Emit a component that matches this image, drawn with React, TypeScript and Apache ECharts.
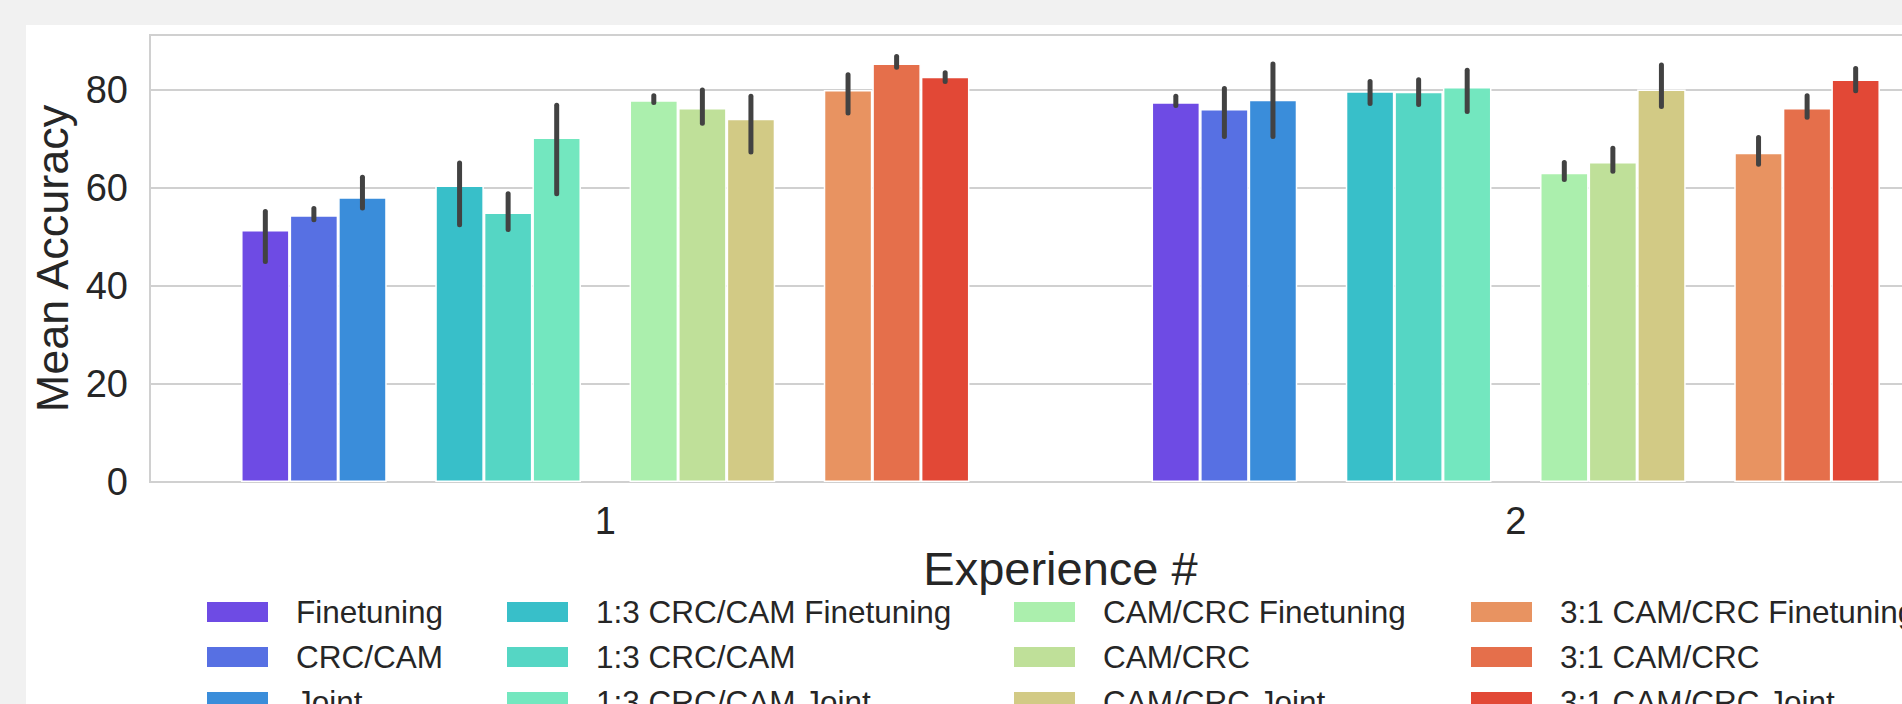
import React, { useEffect, useRef } from "react";
import * as echarts from "echarts";

const experiences = ["1", "2"];
const methodNames = [
  "Finetuning",
  "CRC/CAM",
  "Joint",
  "1:3 CRC/CAM Finetuning",
  "1:3 CRC/CAM",
  "1:3 CRC/CAM Joint",
  "CAM/CRC Finetuning",
  "CAM/CRC",
  "CAM/CRC Joint",
  "3:1 CAM/CRC Finetuning",
  "3:1 CAM/CRC",
  "3:1 CAM/CRC Joint",
];
const meanExp1 = [51.4, 54.4, 58.1, 60.5, 55.0, 70.3, 77.9, 76.3, 74.1, 80.0, 85.4, 82.7];
const meanExp2 = [77.5, 76.1, 78.0, 79.7, 79.6, 80.6, 63.1, 65.3, 80.1, 67.2, 76.3, 82.1];
const ciLowExp1 = [44.5, 53.0, 55.4, 52.0, 51.0, 58.3, 76.9, 72.7, 66.8, 74.8, 84.1, 81.2];
const ciHighExp1 = [55.7, 56.3, 62.7, 65.6, 59.3, 77.4, 79.3, 80.5, 79.2, 83.6, 87.3, 84.0];
const ciLowExp2 = [76.3, 70.0, 70.0, 76.7, 76.5, 75.1, 61.2, 62.9, 76.1, 64.3, 73.9, 79.3];
const ciHighExp2 = [79.2, 80.8, 85.8, 82.2, 82.6, 84.5, 65.7, 68.6, 85.6, 70.8, 79.3, 84.9];
const yTicks = [0, 20, 40, 60, 80];

const TOTAL_SLOTS = 15;

// matplotlib "rainbow" colormap, desaturated like seaborn (saturation 0.75)
function hue2rgb(p: number, q: number, t: number) {
  if (t < 0) t += 1;
  if (t > 1) t -= 1;
  if (t < 1 / 6) return p + (q - p) * 6 * t;
  if (t < 1 / 2) return q;
  if (t < 2 / 3) return p + (q - p) * (2 / 3 - t) * 6;
  return p;
}
function slotColor(slot: number) {
  const x = (slot + 1) / (TOTAL_SLOTS + 1);
  let r = Math.min(1, Math.abs(2 * x - 0.5));
  let g = Math.sin(Math.PI * x);
  let b = Math.cos((Math.PI * x) / 2);
  const max = Math.max(r, g, b);
  const min = Math.min(r, g, b);
  const l = (max + min) / 2;
  let h = 0;
  let s = 0;
  if (max !== min) {
    const d = max - min;
    s = l > 0.5 ? d / (2 - max - min) : d / (max + min);
    if (max === r) h = (g - b) / d + (g < b ? 6 : 0);
    else if (max === g) h = (b - r) / d + 2;
    else h = (r - g) / d + 4;
    h /= 6;
  }
  s *= 0.75;
  if (s === 0) {
    r = g = b = l;
  } else {
    const q = l < 0.5 ? l * (1 + s) : l + s - l * s;
    const p = 2 * l - q;
    r = hue2rgb(p, q, h + 1 / 3);
    g = hue2rgb(p, q, h);
    b = hue2rgb(p, q, h - 1 / 3);
  }
  const toHex = (v: number) => Math.round(v * 255).toString(16).padStart(2, "0");
  return "#" + toHex(r) + toHex(g) + toHex(b);
}

const slotOf = (i: number) => i + Math.floor(i / 3);

export default function App() {
  const ref = useRef<HTMLDivElement>(null);
  useEffect(() => {
    if (!ref.current) return;
    const chart = echarts.init(ref.current, undefined, { renderer: "svg" });
    const font = '"Liberation Sans", Arial, Helvetica, sans-serif';
    const textColor = "#262626";

    const barSeries: any[] = [];
    for (let s = 0; s < TOTAL_SLOTS; s++) {
      const i = methodNames.findIndex((_, k) => slotOf(k) === s);
      if (i < 0) {
        barSeries.push({ type: "bar", name: "_gap" + s, data: [null, null], barGap: 0, barCategoryGap: "20%" });
      } else {
        barSeries.push({
          type: "bar",
          name: methodNames[i],
          data: [meanExp1[i], meanExp2[i]],
          barGap: 0,
          barCategoryGap: "20%",
          itemStyle: { color: slotColor(s), borderColor: "#ffffff", borderWidth: 1.5 },
        });
      }
    }

    const errData: number[][] = [];
    methodNames.forEach((_, i) => {
      errData.push([0, ciLowExp1[i], ciHighExp1[i], slotOf(i)]);
      errData.push([1, ciLowExp2[i], ciHighExp2[i], slotOf(i)]);
    });
    const errLW = 5;

    const legendCols = [0, 1, 2, 3].map((c) => methodNames.slice(c * 3, c * 3 + 3));
    const legendLefts = [207, 507, 1014, 1471];

    chart.setOption({
      animation: false,
      backgroundColor: "#ffffff",
      textStyle: { fontFamily: font },
      graphic: [
        { type: "rect", shape: { x: 0, y: 0, width: 2200, height: 25 }, style: { fill: "#f1f1f1" }, silent: true },
        { type: "rect", shape: { x: 0, y: 0, width: 26, height: 800 }, style: { fill: "#f1f1f1" }, silent: true },
      ],
      grid: {
        left: 150,
        top: 35,
        width: 1821,
        height: 447,
        show: true,
        borderColor: "#d0d0d0",
        borderWidth: 2,
        backgroundColor: "transparent",
      },
      xAxis: {
        type: "category",
        data: experiences,
        axisLine: { show: false },
        axisTick: { show: false },
        axisLabel: { fontSize: 38, color: textColor, margin: 20, fontFamily: font },
        name: "Experience #",
        nameLocation: "middle",
        nameGap: 60,
        nameTextStyle: { fontSize: 47, color: textColor, fontFamily: font },
      },
      yAxis: {
        type: "value",
        min: 0,
        max: 91.2,
        interval: 20,
        axisLine: { show: false },
        axisTick: { show: false },
        axisLabel: {
          fontSize: 38,
          color: textColor,
          margin: 22,
          fontFamily: font,
          formatter: (v: number) => (yTicks.includes(v) ? String(v) : ""),
        },
        splitLine: { lineStyle: { color: "#d0d0d0", width: 2 } },
        name: "Mean Accuracy",
        nameLocation: "middle",
        nameGap: 68,
        nameTextStyle: { fontSize: 45, color: textColor, fontFamily: font },
      },
      legend: legendCols.map((names, c) => ({
        data: names,
        orient: "vertical",
        left: legendLefts[c],
        top: 596,
        padding: 0,
        itemWidth: 61,
        itemHeight: 20,
        itemGap: 13,
        icon: "rect",
        selectedMode: false,
        itemStyle: { borderWidth: 0 },
        textStyle: { fontSize: 31.5, color: textColor, fontFamily: font, padding: [0, 0, 0, 23] },
      })),
      series: [
        ...barSeries,
        {
          type: "custom",
          name: "_err",
          z: 10,
          data: errData,
          encode: { x: 0, y: [1, 2] },
          renderItem: (params: any, api: any) => {
            const cat = api.value(0);
            const lo = api.value(1);
            const hi = api.value(2);
            const slot = api.value(3);
            const base = api.coord([cat, 0]);
            const bandW = api.size([1, 0])[0];
            const slotW = (bandW * 0.8) / TOTAL_SLOTS;
            const x = base[0] + (slot - (TOTAL_SLOTS - 1) / 2) * slotW;
            const p1 = api.coord([cat, lo]);
            const p2 = api.coord([cat, hi]);
            return {
              type: "line",
              shape: { x1: x, y1: p1[1] - errLW / 2, x2: x, y2: p2[1] + errLW / 2 },
              style: { stroke: "#424242", lineWidth: errLW, lineCap: "round" },
            };
          },
        },
      ],
    });
    return () => chart.dispose();
  }, []);

  return (
    <div
      style={{
        position: "fixed",
        left: 0,
        top: 0,
        width: 1902,
        height: 704,
        overflow: "hidden",
        background: "#f1f1f1",
      }}
    >
      <div ref={ref} style={{ width: 2200, height: 760 }} />
    </div>
  );
}
